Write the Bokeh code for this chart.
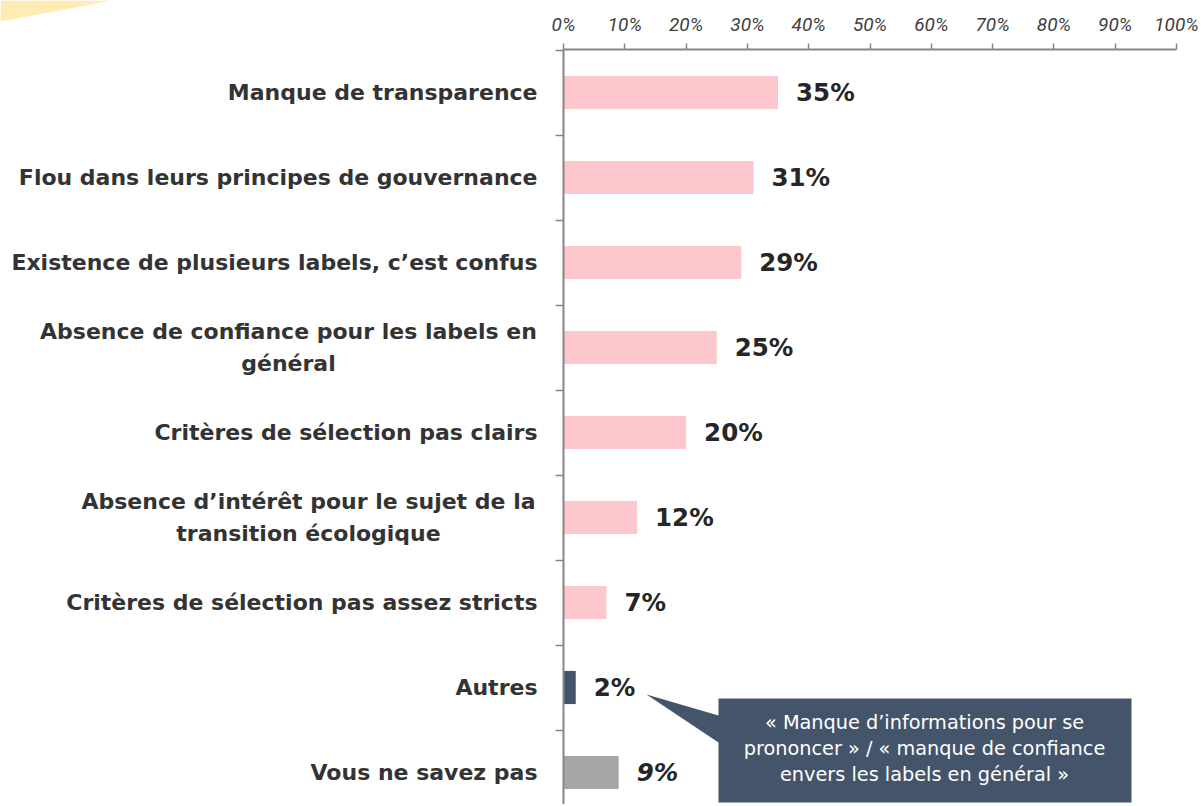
from bokeh.plotting import figure
from bokeh.models import Range1d, LinearAxis, FixedTicker, ColumnDataSource
from bokeh.core.properties import value
from bokeh.embed import file_html
from bokeh.resources import INLINE

# ---- data ----
categories = [
    "Manque de transparence",
    "Flou dans leurs principes de gouvernance",
    "Existence de plusieurs labels, c’est confus",
    "Absence de confiance pour les labels en\ngénéral",
    "Critères de sélection pas clairs",
    "Absence d’intérêt pour le sujet de la\ntransition écologique",
    "Critères de sélection pas assez stricts",
    "Autres",
    "Vous ne savez pas",
]
values = [35, 31, 29, 25, 20, 12, 7, 2, 9]
bar_colors = ["#FCC8CD"] * 7 + ["#44546A", "#A6A6A6"]
label_styles = ["bold"] * 8 + ["bold italic"]
tick_values = [0, 10, 20, 30, 40, 50, 60, 70, 80, 90, 100]
tick_labels = ["0%", "10%", "20%", "30%", "40%", "50%", "60%", "70%", "80%", "90%", "100%"]
callout_lines = [
    "« Manque d’informations pour se",
    "prononcer » / « manque de confiance",
    "envers les labels en général »",
]

# ---- layout (pixel <-> data helpers) ----
W, H = 1200, 804
X0, PX = 563.0, 6.13          # x pixel of 0 %, pixels per point
Y8, PY = 92.0, 85.0           # y pixel of top row centre, pixels per row
n = len(categories)
ys = [n - 1 - i for i in range(n)]
def dx(px): return (px - X0) / PX
def dy(py): return (n - 1) - (py - Y8) / PY

p = figure(width=W, height=H, output_backend="svg", toolbar_location=None,
           x_range=Range1d(dx(0), dx(W)), y_range=Range1d(dy(H), dy(0)),
           x_axis_location=None, y_axis_location=None,
           min_border_left=0, min_border_right=0, min_border_top=0, min_border_bottom=0)
p.outline_line_color = None
p.xgrid.visible = False
p.ygrid.visible = False
p.background_fill_color = "white"
p.border_fill_color = "white"

# decorative corner shape
p.patch(x=[dx(0), dx(112), dx(0)], y=[dy(0), dy(0), dy(21)],
        fill_color="#FFECB3", line_color=None)

# top axis (percent scale)
top_y = dy(49)
xa = LinearAxis(ticker=FixedTicker(ticks=tick_values), fixed_location=top_y,
                major_label_overrides={float(t): l for t, l in zip(tick_values, tick_labels)},
                bounds=(0, 100))
xa.axis_line_color = "#868686"
xa.axis_line_width = 2
xa.major_tick_line_color = "#868686"
xa.major_tick_line_width = 1.5
xa.major_tick_out = 6
xa.major_tick_in = 0
xa.minor_tick_line_color = None
xa.major_label_text_font = "Roboto"
xa.major_label_text_font_style = "italic"
xa.major_label_text_font_size = "19px"
xa.major_label_text_color = "#404040"
xa.major_label_standoff = 8
p.add_layout(xa, "above")

# vertical axis at x = 0 with ticks between categories (no tick labels)
sep_ticks = [i + 0.5 for i in range(n)]
ya = LinearAxis(fixed_location=0, ticker=FixedTicker(ticks=sep_ticks),
                major_label_overrides={t: "" for t in sep_ticks},
                bounds=(dy(H), top_y))
ya.axis_line_color = "#868686"
ya.axis_line_width = 2
ya.major_tick_line_color = "#868686"
ya.major_tick_line_width = 1.5
ya.major_tick_in = 8
ya.major_tick_out = 0
ya.minor_tick_line_color = None
ya.major_label_standoff = 0
p.add_layout(ya, "right")

src = ColumnDataSource(dict(y=ys, v=values, c=bar_colors,
                            t=[f"{v}%" for v in values], fs=label_styles))
p.hbar(y="y", left=0, right="v", height=0.39, fill_color="c", line_color=None, source=src)
p.text(x="v", y="y", text="t", source=src, x_offset=18, text_baseline="middle",
       text_font=value("DejaVu Sans"), text_font_style="fs", text_font_size="24.5px",
       text_color="#262626")

# category labels
single = [(c, y) for c, y in zip(categories, ys) if "\n" not in c]
p.text(x=[0] * len(single), y=[y for _, y in single], text=[c for c, _ in single],
       x_offset=-26, text_align="right", text_baseline="middle",
       text_font=value("DejaVu Sans"), text_font_style="bold", text_font_size="22px",
       text_color="#333333")
centre_px = {3: 288, 5: 308}
for idx, cx in centre_px.items():
    p.text(x=[0], y=[ys[idx]], text=[categories[idx]], x_offset=cx - X0,
           text_align="center", text_baseline="middle", text_line_height=1.25,
           text_font=value("DejaVu Sans"), text_font_style="bold", text_font_size="22px",
           text_color="#333333")

# callout
bx = [dx(718), dx(1131), dx(1131), dx(718), dx(718), dx(646), dx(718)]
by = [dy(698), dy(698), dy(802), dy(802), dy(742), dy(694), dy(715)]
p.patch(x=bx, y=by, fill_color="#44546A", line_color=None)
p.text(x=[dx(924)] * 3, y=[dy(722), dy(748), dy(774)], text=callout_lines,
       text_align="center", text_baseline="middle",
       text_font=value("DejaVu Sans"), text_font_size="19.3px", text_color="white")

open("out.html", "w").write(file_html(p, INLINE))
